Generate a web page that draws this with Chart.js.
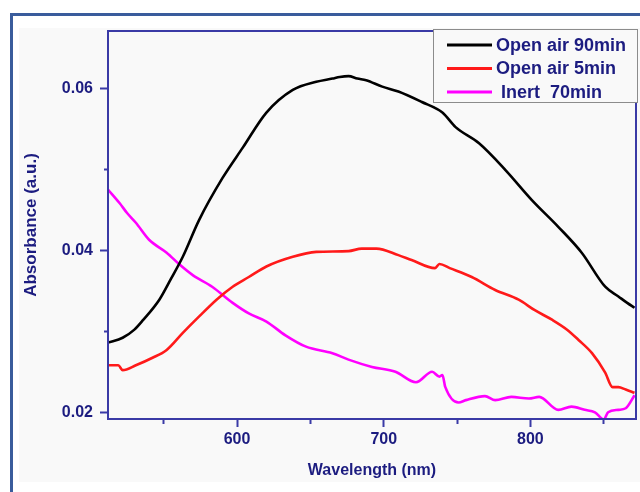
<!DOCTYPE html>
<html>
<head>
<meta charset="utf-8">
<script src="https://cdn.jsdelivr.net/npm/chart.js@4/dist/chart.umd.min.js"></script>
<style>
    html, body { margin: 0; padding: 0; background: #ffffff; }
    #wrap { width: 640px; height: 492px; position: relative; }
</style>
</head>
<body>
<div id="wrap"><canvas id="chart" width="640" height="492"></canvas></div>
<script>
// Readings (wavelength nm / absorbance a.u.)
const air90Wl = [512, 522, 530, 536, 547, 555, 563, 574, 590, 604, 620, 638, 654, 665, 670, 676, 682, 688, 699, 710, 726, 740, 749, 765, 783, 801, 819, 835, 851, 860, 866, 871];
const air90Abs = [0.0286, 0.0292, 0.0302, 0.0314, 0.0339, 0.0365, 0.0392, 0.0437, 0.0489, 0.0527, 0.0570, 0.0598, 0.0608, 0.0612, 0.0614, 0.0615, 0.0612, 0.0610, 0.0602, 0.0596, 0.0583, 0.0570, 0.0552, 0.0532, 0.0499, 0.0462, 0.0429, 0.0397, 0.0355, 0.0343, 0.0335, 0.0329];

const air5Wl = [512, 519, 522, 531, 542, 552, 563, 574, 586, 597, 608, 620, 638, 654, 676, 685, 695, 710, 719, 735, 738, 745, 760, 776, 792, 803, 815, 825, 833, 842, 851, 856, 860, 865, 871];
const air5Abs = [0.0258, 0.0258, 0.0252, 0.0258, 0.0267, 0.0277, 0.0298, 0.0318, 0.0339, 0.0355, 0.0367, 0.0380, 0.0392, 0.0398, 0.0399, 0.0402, 0.0402, 0.0394, 0.0388, 0.0378, 0.0383, 0.0378, 0.0367, 0.0351, 0.0339, 0.0326, 0.0314, 0.0302, 0.0289, 0.0273, 0.0249, 0.0231, 0.0231, 0.0228, 0.0224];

const inert70Wl = [512, 520, 525, 531, 540, 552, 561, 570, 583, 597, 608, 620, 633, 647, 665, 676, 692, 708, 722, 733, 738, 740, 742, 751, 756, 769, 776, 787, 799, 806, 819, 828, 837, 844, 850, 853, 860, 865, 871];
const inert70Abs = [0.0475, 0.0458, 0.0446, 0.0434, 0.0413, 0.0397, 0.0382, 0.0369, 0.0355, 0.0335, 0.0322, 0.0312, 0.0295, 0.0281, 0.0273, 0.0265, 0.0256, 0.0250, 0.0237, 0.0250, 0.0244, 0.0246, 0.0231, 0.0212, 0.0215, 0.0220, 0.0215, 0.0219, 0.0217, 0.0219, 0.0203, 0.0207, 0.0203, 0.0200, 0.0191, 0.0200, 0.0203, 0.0205, 0.0221];

const seriesLabels = ['Open air 90min', 'Open air 5min', ' Inert  70min'];
const seriesColors = ['#000000', '#ff1a1a', '#ff00ff'];

const xTicks = [550, 600, 650, 700, 750, 800, 850];
const xLabelled = [600, 700, 800];
const yTicks = [0.02, 0.03, 0.04, 0.05, 0.06];
const yLabelled = [0.02, 0.04, 0.06];

const NAVY = '#1c1c80';
const AXIS = '#3a3aa6';
const FONT = "'Liberation Sans', Arial, sans-serif";

function toPoints(xs, ys) {
    return xs.map((x, i) => ({ x: x, y: ys[i] }));
}

function isLabelled(list, v) {
    return list.some(l => Math.abs(l - v) < 1e-9);
}

// grey panel with the blue frame round the whole figure
const framePlugin = {
    id: 'frame',
    beforeDraw(chart) {
        const ctx = chart.ctx;
        ctx.save();
        ctx.fillStyle = '#ffffff';
        ctx.fillRect(0, 0, chart.width, chart.height);
        ctx.fillStyle = '#f9f9f9';
        ctx.fillRect(19, 28, chart.width - 19, 454);
        ctx.strokeStyle = '#3a5c9c';
        ctx.lineWidth = 3;
        ctx.beginPath();
        ctx.moveTo(11.5, chart.height);
        ctx.lineTo(11.5, 14.5);
        ctx.lineTo(chart.width, 14.5);
        ctx.stroke();
        ctx.restore();
    },
    afterDraw(chart) {
        const a = chart.chartArea;
        const ctx = chart.ctx;
        ctx.save();
        ctx.strokeStyle = AXIS;
        ctx.lineWidth = 2;
        ctx.strokeRect(a.left, a.top, a.right - a.left, a.bottom - a.top);
        ctx.restore();
    }
};

// boxed legend in the top right corner of the plot
const legendBoxPlugin = {
    id: 'legendBox',
    afterDraw(chart) {
        const a = chart.chartArea;
        const ctx = chart.ctx;
        const left = a.right - 203;
        const top = a.top - 2;
        ctx.save();
        ctx.fillStyle = '#f9f9f9';
        ctx.fillRect(left, top, 204, 73);
        ctx.strokeStyle = '#8c8c8c';
        ctx.lineWidth = 1;
        ctx.strokeRect(left + 0.5, top + 0.5, 204, 73);
        ctx.font = "bold 18px " + FONT;
        ctx.textBaseline = 'middle';
        chart.data.datasets.forEach((ds, i) => {
            const y = top + 16 + i * 23.5;
            ctx.strokeStyle = ds.borderColor;
            ctx.lineWidth = 3;
            ctx.beginPath();
            ctx.moveTo(left + 14, y);
            ctx.lineTo(left + 59, y);
            ctx.stroke();
            ctx.fillStyle = NAVY;
            ctx.fillText(ds.label, left + 63, y + 1);
        });
        ctx.restore();
    }
};

const ctx = document.getElementById('chart').getContext('2d');

new Chart(ctx, {
    type: 'line',
    data: {
        datasets: [
            { label: seriesLabels[0], data: toPoints(air90Wl, air90Abs), borderColor: seriesColors[0] },
            { label: seriesLabels[1], data: toPoints(air5Wl, air5Abs), borderColor: seriesColors[1] },
            { label: seriesLabels[2], data: toPoints(inert70Wl, inert70Abs), borderColor: seriesColors[2] },
        ]
    },
    options: {
        responsive: false,
        animation: false,
        layout: {
            padding: { left: 0, top: 31, right: 4, bottom: 0 }
        },
        elements: {
            point: { radius: 0 },
            line: { borderWidth: 2.6, cubicInterpolationMode: 'monotone' }
        },
        plugins: {
            legend: { display: false },
            tooltip: { enabled: false }
        },
        scales: {
            x: {
                type: 'linear',
                min: 512,
                max: 872,
                afterFit: (scale) => { scale.height = 73; },
                afterBuildTicks: (scale) => { scale.ticks = xTicks.map(v => ({ value: v })); },
                border: { display: true, color: AXIS, width: 2 },
                grid: {
                    drawOnChartArea: false,
                    tickLength: 8,
                    tickColor: AXIS,
                    tickWidth: 2,
                    tickBorderDash: (c) => isLabelled(xLabelled, c.tick.value) ? [] : [4, 20]
                },
                ticks: {
                    color: NAVY,
                    padding: 3,
                    maxRotation: 0,
                    autoSkip: false,
                    font: { family: FONT, size: 16, weight: 'bold' },
                    callback: (v) => isLabelled(xLabelled, v) ? String(v) : ''
                },
                title: {
                    display: true,
                    text: 'Wavelength (nm)',
                    color: NAVY,
                    padding: { top: 0, bottom: 12 },
                    font: { family: FONT, size: 16, weight: 'bold' }
                }
            },
            y: {
                min: 0.01917,
                max: 0.06707,
                afterFit: (scale) => { scale.width = 108; },
                afterBuildTicks: (scale) => { scale.ticks = yTicks.map(v => ({ value: v })); },
                border: { display: true, color: AXIS, width: 2 },
                grid: {
                    drawOnChartArea: false,
                    tickLength: 8,
                    tickColor: AXIS,
                    tickWidth: 2,
                    tickBorderDash: (c) => isLabelled(yLabelled, c.tick.value) ? [] : [4, 4],
                    tickBorderDashOffset: (c) => isLabelled(yLabelled, c.tick.value) ? 0 : 4
                },
                ticks: {
                    color: NAVY,
                    padding: 7,
                    autoSkip: false,
                    font: { family: FONT, size: 16, weight: 'bold' },
                    callback: (v) => isLabelled(yLabelled, v) ? v.toFixed(2) : ''
                },
                title: {
                    display: true,
                    text: 'Absorbance (a.u.)',
                    color: NAVY,
                    padding: { top: 21, bottom: 0 },
                    font: { family: FONT, size: 17, weight: 'bold' }
                }
            }
        }
    },
    plugins: [framePlugin, legendBoxPlugin]
});
</script>
</body>
</html>
